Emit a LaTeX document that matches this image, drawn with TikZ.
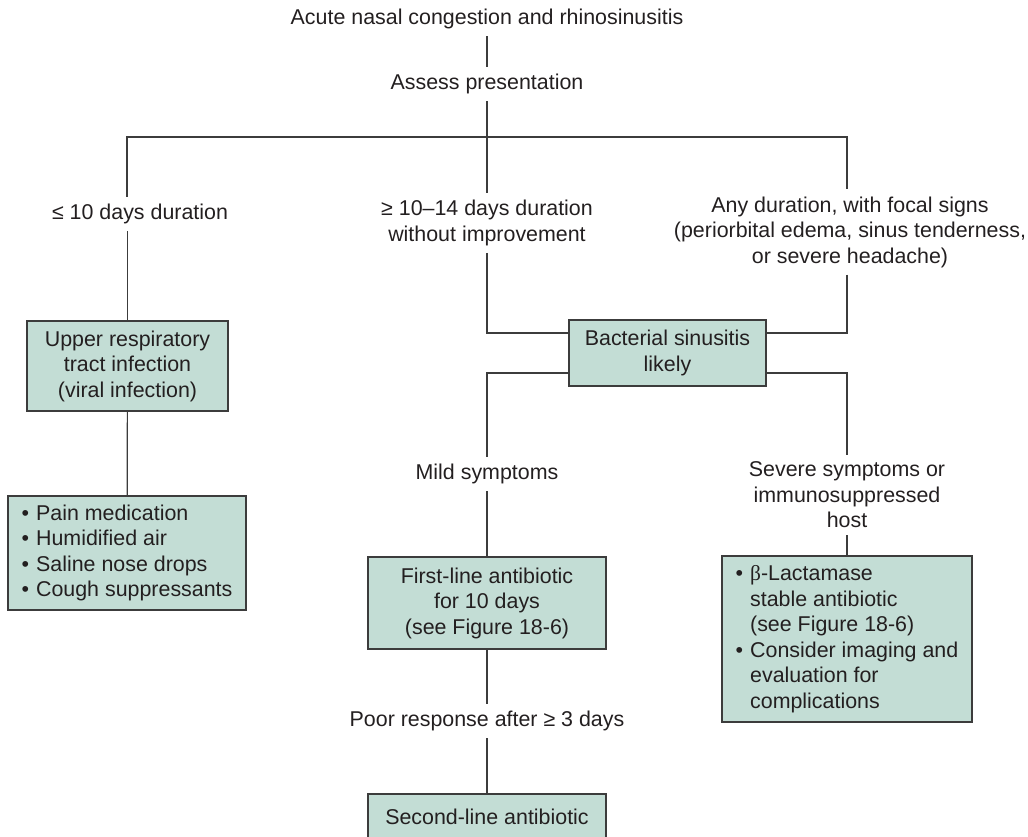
\documentclass[tikz,border=0pt]{standalone}
\usepackage{fontspec}
\setmainfont{Liberation Sans}
\newfontfamily\betafont{Liberation Serif}
\definecolor{boxfill}{RGB}{195,221,213}
\definecolor{ink}{RGB}{35,31,32}
\definecolor{rulec}{RGB}{60,60,60}
\newcommand\bul{\makebox[14.5pt][l]{\textbullet}}
\newcommand\bulind{\hspace*{14.5pt}}
\begin{document}
\begin{tikzpicture}[x=1pt,y=-1pt,
  font=\fontsize{21.4}{25.5}\selectfont, text=ink,
  lab/.style={align=center, inner sep=7pt},
  box/.style={draw=rulec, fill=boxfill, line width=1.2pt, align=center, inner sep=0pt},
  conn/.style={draw=rulec, line width=1.2pt}]
\useasboundingbox (0,0) rectangle (1028,837);

% boxes
\node[box, minimum width=201pt, minimum height=90pt] (uri) at (127.5,366) {Upper respiratory\\tract infection\\(viral infection)};
\node[box, minimum width=238pt, minimum height=114pt, align=left] (care) at (127,553) {\bul Pain medication\\\bul Humidified air\\\bul Saline nose drops\\\bul Cough suppressants};
\node[box, minimum width=197pt, minimum height=66pt] (bact) at (667.5,353) {Bacterial sinusitis\\likely};
\node[box, minimum width=238pt, minimum height=92pt] (first) at (487,603) {First-line antibiotic\\for 10 days\\(see Figure 18-6)};
\node[box, minimum width=238pt, minimum height=46pt] (second) at (487,817) {Second-line antibiotic};
\node[box, minimum width=250pt, minimum height=166pt, align=left] (beta) at (847,639) {\bul{\betafont β}-Lactamase\\\bulind stable antibiotic\\\bulind (see Figure 18-6)\\\bul Consider imaging and\\\bulind evaluation for\\\bulind complications};

% labels
\node[lab] (title) at (487,19) {Acute nasal congestion and rhinosinusitis};
\node[lab] (assess) at (487,84) {Assess presentation};
\node[lab] (short) at (140,214) {≤ 10 days duration};
\node[lab] (long) at (487,223) {≥ 10–14 days duration\\without improvement};
\node[lab] (focal) at (850,232) {Any duration, with focal signs\\(periorbital edema, sinus tenderness,\\or severe headache)};
\node[lab] (mild) at (487,474) {Mild symptoms};
\node[lab] (severe) at (847,495) {Severe symptoms or\\immunosuppressed\\host};
\node[lab] (poor) at (487,721) {Poor response after ≥ 3 days};

% junctions
\coordinate (jc) at (487,137);
\coordinate (jl) at (127,137);
\coordinate (jr) at (847,137);

% connectors
\draw[conn] (title) -- (assess);
\draw[conn] (assess) -- (jc);
\draw[conn] (jl |- short.north) -- (jl) -- (jr) -- (jr |- focal.north);
\draw[conn] (jc) -- (long);
\draw[conn] (uri.north) -- (uri.north |- short.south);
\draw[conn] (uri) -- (care);
\draw[conn] (long) |- ([yshift=20pt]bact.west);
\draw[conn] (jr |- focal.south) |- ([yshift=20pt]bact.east);
\draw[conn] ([yshift=-20pt]bact.west) -| (mild);
\draw[conn] ([yshift=-20pt]bact.east) -| (severe);
\draw[conn] (mild) -- (first);
\draw[conn] (severe) -- (beta);
\draw[conn] (first) -- (poor);
\draw[conn] (poor) -- (second);
\end{tikzpicture}
\end{document}
